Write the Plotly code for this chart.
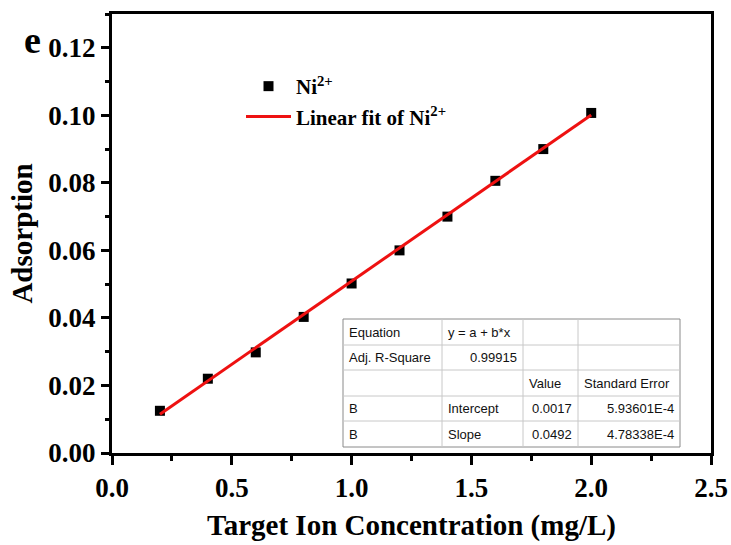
import plotly.graph_objects as go

# ---- data ----
conc = [0.2, 0.4, 0.6, 0.8, 1.0, 1.2, 1.4, 1.6, 1.8, 2.0]
absorb = [0.0125, 0.0220, 0.0298, 0.0403, 0.0502, 0.0600, 0.0700, 0.0806, 0.0900, 0.1007]
fit_x = [0.2, 2.0]
fit_y = [0.0115, 0.1001]

table_rows = [
    ["Equation", "y = a + b*x", "", ""],
    ["Adj. R-Square", "0.99915", "", ""],
    ["", "", "Value", "Standard Error"],
    ["B", "Intercept", "0.0017", "5.93601E-4"],
    ["B", "Slope", "0.0492", "4.78338E-4"],
]
table_align = [
    ["left", "left", "left", "left"],
    ["left", "right", "left", "left"],
    ["left", "left", "left", "left"],
    ["left", "left", "right", "right"],
    ["left", "left", "right", "right"],
]

W, H = 731, 545
L, R, T, B = 112, 20, 14, 92
PW, PH = W - L - R, H - T - B

def px(x):
    return (x - L) / PW

def py(y):
    return (H - B - y) / PH

SERIF = "Liberation Serif, Times New Roman, serif"

fig = go.Figure()
fig.add_trace(go.Scatter(
    x=conc, y=absorb, mode="markers", name="<b>Ni<sup>2+</sup></b>",
    marker=dict(symbol="square", size=10, color="black"),
))
fig.add_trace(go.Scatter(
    x=fit_x, y=fit_y, mode="lines", name="<b>Linear fit of Ni<sup>2+</sup></b>",
    line=dict(color="#ee1111", width=3),
))

axis_common = dict(
    showline=True, linecolor="black", linewidth=3, mirror=True,
    ticks="outside", tickcolor="black", tickwidth=3,
    showgrid=False, zeroline=False, automargin=False,
    tickfont=dict(family=SERIF, size=27, color="black", weight="bold"),
)

fig.update_xaxes(
    range=[0, 2.5], dtick=0.5, tick0=0, ticklen=9, tickformat=".1f",
    minor=dict(ticks="outside", dtick=0.25, ticklen=5, tickwidth=3, tickcolor="black"),
    title=dict(text="<b>Target Ion Concentration (mg/L)</b>",
               font=dict(family=SERIF, size=29, color="black"), standoff=13),
    **axis_common,
)
fig.update_yaxes(
    range=[0, 0.13], dtick=0.02, tick0=0, ticklen=8, tickformat=".2f",
    minor=dict(ticks="outside", dtick=0.01, ticklen=4, tickwidth=3, tickcolor="black"),
    title=dict(text="<b>Adsorption</b>",
               font=dict(family=SERIF, size=29, color="black"), standoff=8),
    **axis_common,
)

shapes = []
annotations = []

# ---- fit-result table ----
col_x = [343, 442, 523, 578, 680]
row_y = [319, 345, 370, 396, 421, 447]
shapes.append(dict(type="rect", xref="paper", yref="paper",
                   x0=px(col_x[0]), x1=px(col_x[-1]), y0=py(row_y[-1]), y1=py(row_y[0]),
                   fillcolor="white", line=dict(color="#8a8a8a", width=1), layer="above"))
for cx in col_x[1:-1]:
    shapes.append(dict(type="line", xref="paper", yref="paper",
                       x0=px(cx), x1=px(cx), y0=py(row_y[-1]), y1=py(row_y[0]),
                       line=dict(color="#c8c8c8", width=1), layer="above"))
for ry in row_y[1:-1]:
    shapes.append(dict(type="line", xref="paper", yref="paper",
                       x0=px(col_x[0]), x1=px(col_x[-1]), y0=py(ry), y1=py(ry),
                       line=dict(color="#c8c8c8", width=1), layer="above"))

for i, row in enumerate(table_rows):
    yc = (row_y[i] + row_y[i + 1]) / 2
    for j, txt in enumerate(row):
        if not txt:
            continue
        al = table_align[i][j]
        if al == "left":
            xpos, xa = px(col_x[j] + 4), "left"
        else:
            xpos, xa = px(col_x[j + 1] - 4), "right"
        annotations.append(dict(
            text=txt, xref="paper", yref="paper", x=xpos, y=py(yc),
            xanchor=xa, yanchor="middle", showarrow=False,
            font=dict(family="Liberation Sans, Arial, sans-serif", size=13, color="#111111"),
        ))

# panel letter
annotations.append(dict(
    text="<b>e</b>", xref="paper", yref="paper", x=px(22), y=py(40),
    xanchor="left", yanchor="middle", showarrow=False,
    font=dict(family=SERIF, size=38, color="black"),
))

fig.update_layout(
    width=W, height=H,
    margin=dict(l=L, r=R, t=T, b=B, autoexpand=False),
    paper_bgcolor="white", plot_bgcolor="white",
    showlegend=True,
    legend=dict(
        x=px(241), y=py(66), xanchor="left", yanchor="top",
        bgcolor="rgba(0,0,0,0)", borderwidth=0,
        font=dict(family=SERIF, size=21, color="black"),
        itemwidth=45, tracegroupgap=0,
    ),
    shapes=shapes,
    annotations=annotations,
)

fig.write_html(
    "out.html",
    config={"displayModeBar": False},
    post_script="document.body.style.margin='0';document.body.style.padding='0';",
)
